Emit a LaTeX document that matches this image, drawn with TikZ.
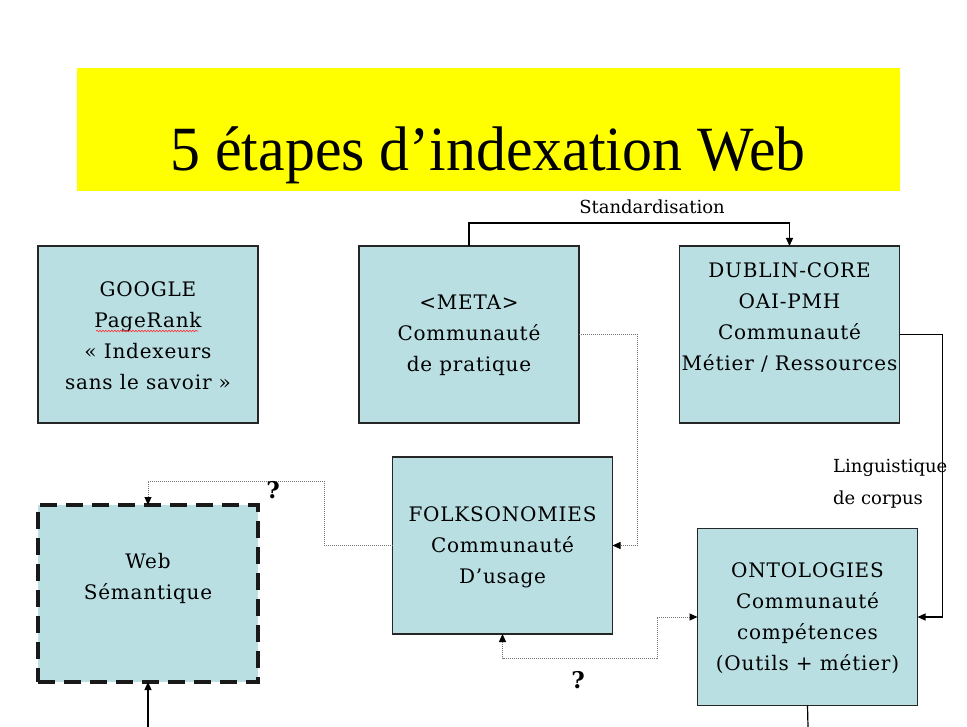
\documentclass[tikz,border=0pt]{standalone}
\usepackage{fontspec}
\setmainfont{DejaVu Serif}
\newfontfamily\titlefont[FakeStretch=0.95]{Liberation Serif}
\newfontfamily\boxfont[LetterSpace=4]{DejaVu Serif}
\usetikzlibrary{arrows.meta,decorations.pathmorphing}
\definecolor{boxblue}{HTML}{B9DFE3}
\definecolor{titleyellow}{HTML}{FFFF00}
\begin{document}
\begin{tikzpicture}[x=1pt,y=-1pt,
  box/.style={draw=black!85, line width=1.3pt, fill=boxblue, minimum width=220pt, minimum height=177pt, inner sep=0pt, outer sep=0pt},
  dashbox/.style={box, draw=black!90, line width=3.5pt, dash pattern=on 17pt off 9pt},
  txt/.style={font=\boxfont\fontsize{20}{31}\selectfont, align=center, inner sep=0pt},
  lbl/.style={font=\fontsize{18}{32}\selectfont, inner sep=0pt},
  link/.style={line width=1.2pt, black},
  dot/.style={densely dotted, line width=1pt, black!55},
  tip/.style={-{Triangle[length=8pt,width=7pt,color=black]}},
  bitip/.style={{Triangle[length=8pt,width=7pt,color=black]}-{Triangle[length=8pt,width=7pt,color=black]}},
  qm/.style={font=\fontsize{23}{23}\selectfont\bfseries, inner sep=0pt}]

\useasboundingbox (0,0) rectangle (967,727);
\fill[white] (0,0) rectangle (967,727);

% title
\node[fill=titleyellow, minimum width=823pt, minimum height=123pt, inner sep=0pt] (titlebox) at (488.5,129.5) {};
\node[anchor=base, inner sep=0pt, font=\titlefont\fontsize{63}{63}\selectfont] (title) at (488,171) {5 étapes d’indexation Web};

% boxes
\node[box] (google) at (148,334.5) {};
\node[box] (meta) at (469,334.5) {};
\node[box] (dublin) at (789.5,334.5) {};
\node[box] (folks) at (502.5,545.5) {};
\node[dashbox] (web) at (148,593.5) {};
\node[box] (onto) at (807.5,617) {};

% box texts
\node[txt] (googletxt) at (148,336) {GOOGLE\\PageRank\\« Indexeurs\\sans le savoir »};
\draw[red!80, line width=0.6pt, decorate, decoration={snake, amplitude=0.8pt, segment length=3pt}] (96,331) -- (198,331);
\node[txt] (metatxt) at (469,335) {<META>\\Communauté\\de pratique};
\node[txt] (dublintxt) at (789.5,318) {DUBLIN-CORE\\OAI-PMH\\Communauté\\Métier / Ressources};
\node[txt] (folkstxt) at (502.5,547) {FOLKSONOMIES\\Communauté\\D’usage};
\node[txt] (webtxt) at (148,578) {Web\\Sémantique};
\node[txt] (ontotxt) at (807.5,618) {ONTOLOGIES\\Communauté\\compétences\\(Outils + métier)};

% connectors
\draw[link, tip] (meta.north) -- ++(0,-23) -| (dublin.north);
\node[lbl] (std) at (652,207) {Standardisation};

\draw[link, tip] (dublin.east) -- ++(43,0) |- (onto.east);
\node[lbl, anchor=west, align=left] (ling) at (833,484) {Linguistique\\de corpus};

\draw[dot, tip] (meta.east) -- ++(58,0) |- (folks.east);

\coordinate (wn) at (148,481);
\draw[dot, tip] (folks.west) -- ++(-68,0) |- (wn) -- (web.north);
\node[qm] (q1) at (273,490) {?};

\coordinate (fo) at (657,658);
\draw[dot, bitip] (folks.south) |- (fo) |- (onto.west);
\node[qm] (q2) at (578,680) {?};

\coordinate (bl) at (148,727);
\coordinate (br) at (808,727);
\draw[link, tip] (bl) -- (web.south);
\draw[link] (onto.south) -- (br);
\end{tikzpicture}
\end{document}
